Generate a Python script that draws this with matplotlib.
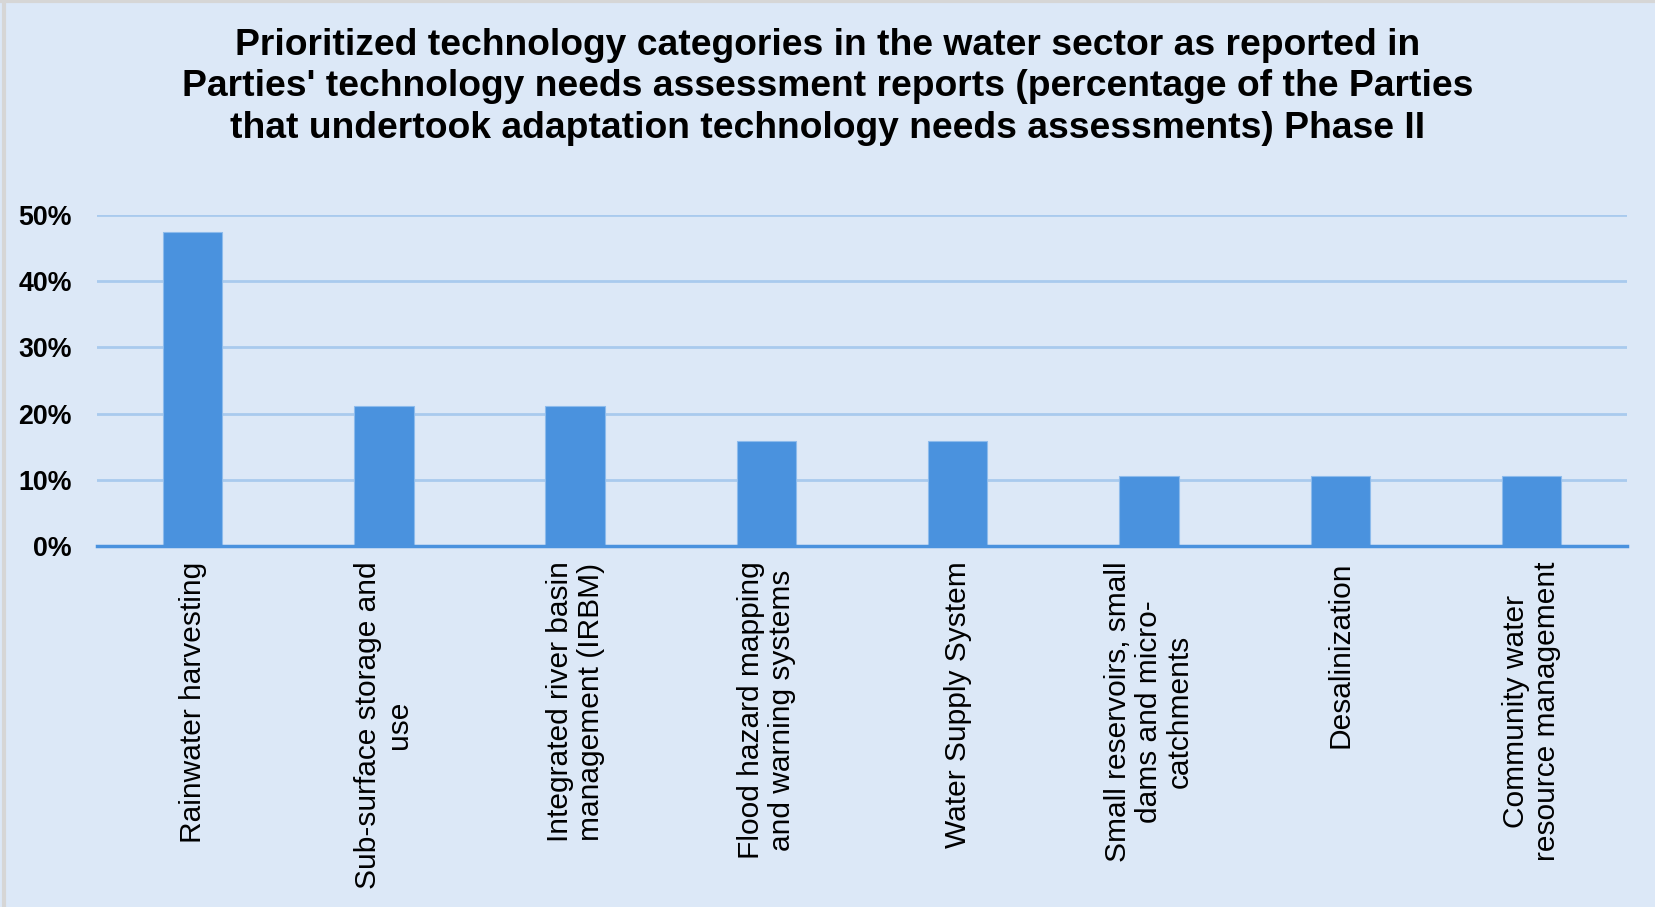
import matplotlib.pyplot as plt
from matplotlib.lines import Line2D
from matplotlib.ticker import PercentFormatter
import numpy as np

plt.rcParams['font.family'] = ['Liberation Sans', 'DejaVu Sans']

categories = [
    "Rainwater harvesting",
    "Sub-surface storage and\nuse",
    "Integrated river basin\nmanagement (IRBM)",
    "Flood hazard mapping\nand warning systems",
    "Water Supply System",
    "Small reservoirs, small\ndams and micro-\ncatchments",
    "Desalinization",
    "Community water\nresource management",
]
# share of the 19 Parties that prioritised each category
shares = [0.474, 0.211, 0.211, 0.158, 0.158, 0.105, 0.105, 0.105]

title = ("Prioritized technology categories in the water sector as reported in\n"
         "Parties' technology needs assessment reports (percentage of the Parties\n"
         "that undertook adaptation technology needs assessments) Phase II")

bg = "#dce8f7"
bar_color = "#4a92de"
grid_color = "#a9caee"

fig = plt.figure(figsize=(16.55, 9.07), dpi=100, facecolor=bg)
ax = fig.add_axes([0.0586, 0.398, 0.9245, 0.365])
ax.set_facecolor(bg)

x = np.arange(len(categories))
ax.bar(x, shares, width=0.31, color=bar_color, edgecolor="#8dbbec",
       linewidth=0.8, zorder=3)

ax.set_xlim(-0.5, len(categories) - 0.5)
ax.set_ylim(0, 0.5)
ax.set_yticks(np.arange(0, 0.51, 0.1))
ax.yaxis.set_major_formatter(PercentFormatter(1.0, decimals=0))
ax.grid(axis="y", color=grid_color, linewidth=2, zorder=0)
ax.set_axisbelow(True)

for side in ["top", "right", "left"]:
    ax.spines[side].set_visible(False)
ax.spines["bottom"].set_color("#4a92de")
ax.spines["bottom"].set_linewidth(2.5)
ax.spines["bottom"].set_zorder(4)

ax.tick_params(axis="y", length=0, pad=18, labelsize=19.3)
for lbl in ax.get_yticklabels():
    lbl.set_fontweight("bold")

ax.set_xticks(x)
ax.set_xticklabels(categories, rotation=90, fontsize=21.5, va="top",
                   ha="center", multialignment="center", linespacing=1.14)
ax.tick_params(axis="x", length=0, pad=11)

fig.text(0.5, 1 - 28 / 907, title, ha="center", va="top", fontsize=26.8,
         fontweight="bold", linespacing=1.24)

# thin grey frame along the top and left edges
fig.add_artist(Line2D([0, 1], [0.9985, 0.9985], transform=fig.transFigure,
                      color="#d6d6d6", linewidth=3))
fig.add_artist(Line2D([0.0027, 0.0027], [0, 1], transform=fig.transFigure,
                      color="#d6d6d6", linewidth=3))

fig.savefig("out.png", dpi=100, facecolor=bg)
